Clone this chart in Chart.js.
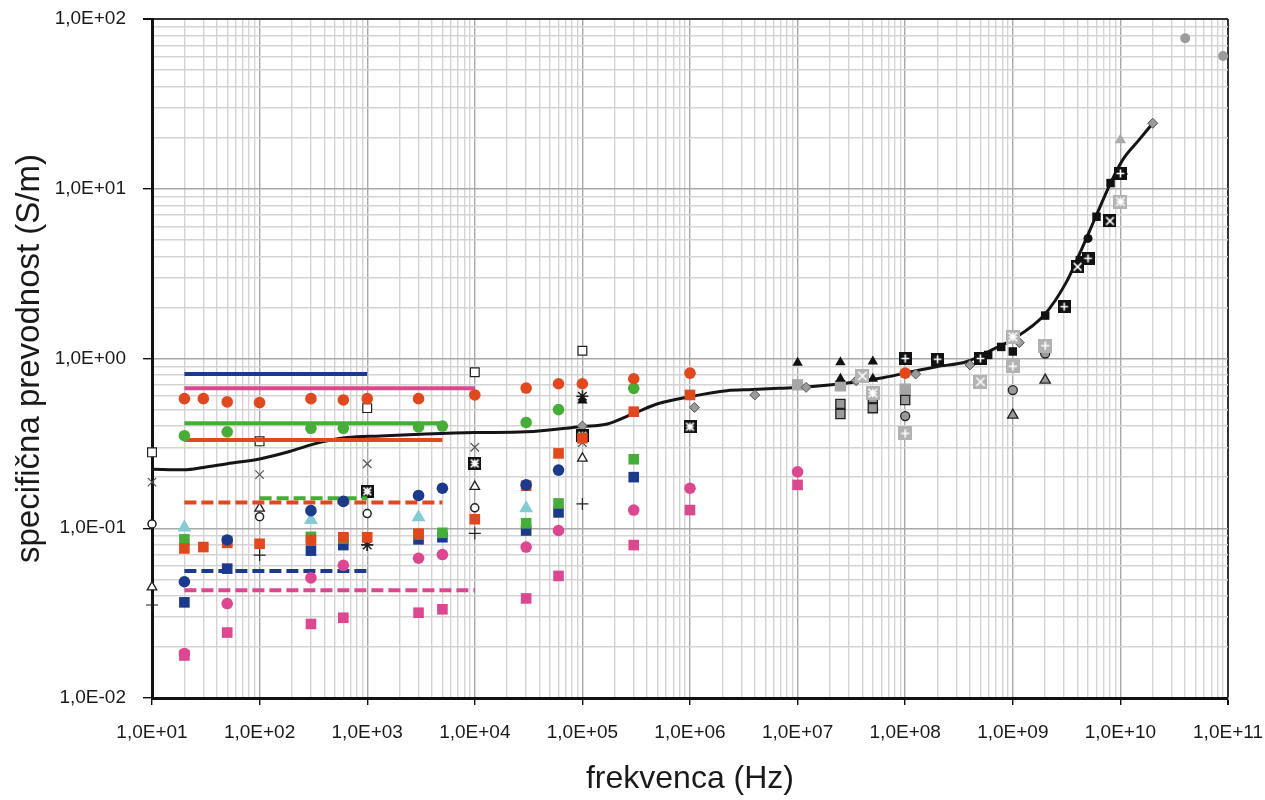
<!DOCTYPE html>
<html>
<head>
<meta charset="utf-8">
<title>specifična prevodnost</title>
<script src="https://cdn.jsdelivr.net/npm/chart.js"></script>
<style>
  body { margin: 0; background: #fff; }
</style>
</head>
<body>
<canvas id="chart" width="1265" height="800"></canvas>
<script>
// axis decades (tick labels come from these)
const xDecades = [1e1, 1e2, 1e3, 1e4, 1e5, 1e6, 1e7, 1e8, 1e9, 1e10, 1e11];
const yDecades = [1e-2, 1e-1, 1e0, 1e1, 1e2];

// fitted curve [Hz, S/m]
const curve = [[10,0.223],[20,0.221],[30,0.228],[50,0.24],[100,0.256],[190,0.283],[316,0.313],[650,0.342],
  [1320,0.35],[3500,0.359],[1e4,0.366],[3e4,0.37],[1e5,0.398],[1.66e5,0.41],[3e5,0.475],[5.2e5,0.545],
  [1e6,0.596],[2.2e6,0.646],[3.8e6,0.656],[6.7e6,0.667],[1.37e7,0.683],[2.8e7,0.714],[5.8e7,0.764],
  [1e8,0.82],[1.95e8,0.895],[3.7e8,0.957],[6.9e8,1.15],[1e9,1.3],[1.95e9,1.8],[3.1e9,2.77],[4.2e9,4.17],
  [5.9e9,6.84],[8.1e9,10.8],[1.05e10,14.8],[1.49e10,19.4],[2e10,24.3]];

// coloured measurement series
const orangeCircles = [[20,0.58],[30,0.58],[50,0.555],[100,0.55],[300,0.58],[600,0.57],[1000,0.58],[3000,0.58],
  [1e4,0.61],[3e4,0.67],[6e4,0.71],[1e5,0.71],[3e5,0.76],[1e6,0.82],[1e8,0.82]];
const greenCircles = [[20,0.351],[50,0.37],[300,0.388],[600,0.388],[3000,0.395],[5000,0.40],[3e4,0.42],[6e4,0.50],[3e5,0.667]];
const blueCircles = [[20,0.0484],[50,0.0853],[300,0.127],[600,0.144],[3000,0.156],[5000,0.172],[3e4,0.18],[6e4,0.22]];
const pinkCircles = [[20,0.0183],[50,0.036],[300,0.051],[600,0.0605],[3000,0.0666],[5000,0.070],[3e4,0.0775],
  [6e4,0.097],[3e5,0.128],[1e6,0.172],[1e7,0.215]];
const orangeSquares = [[20,0.076],[30,0.0775],[50,0.082],[100,0.081],[300,0.0853],[600,0.0885],[1000,0.0885],
  [3000,0.093],[1e4,0.113],[3e4,0.178],[6e4,0.276],[1e5,0.339],[3e5,0.486],[1e6,0.61]];
const greenSquares = [[20,0.086],[50,0.084],[300,0.089],[600,0.087],[3000,0.092],[5000,0.094],[3e4,0.107],[6e4,0.140],[3e5,0.255]];
const blueSquares = [[20,0.0366],[50,0.0578],[300,0.0738],[600,0.0796],[3000,0.086],[5000,0.0885],[3e4,0.097],[6e4,0.124],[3e5,0.20]];
const pinkSquares = [[20,0.0178],[50,0.0243],[300,0.0273],[600,0.0297],[3000,0.0318],[5000,0.0333],[3e4,0.0386],
  [6e4,0.0524],[3e5,0.0796],[1e6,0.128],[1e7,0.18]];
const cyanTriangles = [[20,0.101],[300,0.112],[3000,0.116],[3e4,0.131]];

// constant-value ranges
const blueLine = [[20,0.81],[1000,0.81]];
const pinkLine = [[20,0.667],[1e4,0.667]];
const greenLine = [[20,0.415],[5000,0.415]];
const orangeLine = [[20,0.331],[5000,0.331]];
const orangeDash = [[20,0.142],[5000,0.142]];
const greenDash = [[100,0.15],[1000,0.15]];
const blueDash = [[20,0.056],[1000,0.056]];
const pinkDash = [[20,0.0432],[1e4,0.0432]];

// black / grey series
const openSquares = [[10,0.28],[100,0.325],[1000,0.51],[1e4,0.83],[1e5,1.11]];
const xCrosses = [[10,0.187],[100,0.207],[1000,0.24],[1e4,0.30],[1e5,0.32]];
const openCircles = [[10,0.106],[100,0.117],[1000,0.122],[1e4,0.132]];
const openTriangles = [[10,0.045],[100,0.131],[1e4,0.176],[1e5,0.258]];
const plusSigns = [[10,0.0353],[100,0.0695],[1000,0.08],[1e4,0.0933],[1e5,0.139]];
const asterisks = [[1000,0.0796],[1e5,0.6]];
const darkBoxAst = [[1000,0.165],[1e4,0.241],[1e5,0.35],[1e6,0.396]];
const blackTriangles = [[1e5,0.565],[1e7,0.945],[2.5e7,0.95],[5e7,0.96],[2.5e7,0.76],[5e7,0.76]];
const greyDiamonds = [[1e5,0.40],[1.1e6,0.515],[4e6,0.61],[1.2e7,0.676],[3.5e7,0.74],[1.25e8,0.81],[4e8,0.917],
  [1.15e9,1.24],[1.05e10,12.2],[2e10,24.3]];
const greyFilled = [[1e7,0.70],[2.5e7,0.69],[1e8,0.66]];
const greySquares = [[2.5e7,0.54],[2.5e7,0.471],[5e7,0.585],[5e7,0.51],[1e8,0.65],[1e8,0.57]];
const greyCircles = [[1e8,0.458],[1e9,0.652],[2e9,1.07]];
const greyTriangles = [[1e9,0.464],[2e9,0.746]];
const paleTriangles = [[1e10,19.4]];
const paleBoxPlus = [[1e8,0.362],[1e9,0.9],[2e9,1.19]];
const paleBoxX = [[4e7,0.79],[5e8,0.73]];
const paleBoxAst = [[5e7,0.625],[1e9,1.34],[1e10,8.4]];
const darkBoxPlus = [[1e8,1.0],[2e8,0.99],[5e8,1.0],[3e9,2.02],[5e9,3.89],[1e10,12.3]];
const darkBoxX = [[4e9,3.47],[8e9,6.46]];
const blackSquares = [[5.9e8,1.05],[7.8e8,1.17],[1e9,1.1],[2e9,1.79],[4.2e9,3.8],[6e9,6.84],[8.1e9,10.8]];
const blackCircles = [[5e9,5.1]];
const bigGreyCircles = [[4e10,77],[9e10,60.5]];

const FONT = '"Liberation Sans", Arial, sans-serif';
const ORANGE = '#e0481d', GREEN = '#46ae38', BLUE = '#1b3a8c', PINK = '#dc4890', CYAN = '#84cbd3';

// small square markers with a white glyph inside
function boxMarker(fill, glyph, size) {
  const c = document.createElement('canvas');
  c.width = size; c.height = size;
  const g = c.getContext('2d');
  g.fillStyle = fill;
  g.fillRect(0, 0, size, size);
  g.strokeStyle = '#fff';
  g.lineWidth = 1.6;
  const m = size / 2, a = size * 0.3;
  g.beginPath();
  if (glyph === 'plus' || glyph === 'ast') {
    g.moveTo(m, m - a); g.lineTo(m, m + a);
    g.moveTo(m - a, m); g.lineTo(m + a, m);
  }
  if (glyph === 'x' || glyph === 'ast') {
    g.moveTo(m - a, m - a); g.lineTo(m + a, m + a);
    g.moveTo(m - a, m + a); g.lineTo(m + a, m - a);
  }
  g.stroke();
  return c;
}

const pts = arr => arr.map(([x, y]) => ({ x, y }));
function marks(data, style) {
  return Object.assign({ data: pts(data), showLine: false, borderWidth: 0, clip: false }, style);
}
function seg(data, color, dash) {
  return { data: pts(data), showLine: true, pointRadius: 0, borderColor: color, borderWidth: 4,
    borderDash: dash ? [12, 5] : [], borderCapStyle: 'butt' };
}

const isMajor = v => Math.abs(Math.log10(v) - Math.round(Math.log10(v))) < 1e-9;
const fmt = v => {
  const e = Math.round(Math.log10(v));
  return '1,0E' + (e < 0 ? '-' : '+') + String(Math.abs(e)).padStart(2, '0');
};
function logTicks(decades) {
  const out = [];
  decades.forEach((d, i) => {
    if (i === decades.length - 1) { out.push(d); return; }
    for (let k = 1; k <= 9; k++) out.push(+(k * d).toPrecision(3));
  });
  return out.map(v => ({ value: v }));
}
function gridColor(ctx, last) {
  const v = ctx.tick ? ctx.tick.value : 0;
  if (v === last) return '#333';
  return isMajor(v) ? '#a8a8a8' : '#d4d4d4';
}

const datasets = [
  marks(orangeCircles, { pointStyle: 'circle', pointRadius: 5.8, backgroundColor: ORANGE }),
  marks(greenCircles, { pointStyle: 'circle', pointRadius: 5.8, backgroundColor: GREEN }),
  marks(blueCircles, { pointStyle: 'circle', pointRadius: 5.8, backgroundColor: BLUE }),
  marks(pinkCircles, { pointStyle: 'circle', pointRadius: 5.8, backgroundColor: PINK }),
  marks(cyanTriangles, { pointStyle: 'triangle', pointRadius: 8, backgroundColor: CYAN }),
  marks(orangeSquares, { pointStyle: 'rect', pointRadius: 7.5, backgroundColor: ORANGE }),
  marks(greenSquares, { pointStyle: 'rect', pointRadius: 7.5, backgroundColor: GREEN }),
  marks(blueSquares, { pointStyle: 'rect', pointRadius: 7.5, backgroundColor: BLUE }),
  marks(pinkSquares, { pointStyle: 'rect', pointRadius: 7.5, backgroundColor: PINK }),
  seg(blueLine, BLUE), seg(pinkLine, PINK), seg(greenLine, GREEN), seg(orangeLine, ORANGE),
  seg(orangeDash, ORANGE, true), seg(greenDash, GREEN, true), seg(blueDash, BLUE, true), seg(pinkDash, PINK, true),
  marks(bigGreyCircles, { pointStyle: 'circle', pointRadius: 5, backgroundColor: '#9c9c9c' }),
  marks(darkBoxPlus, { pointStyle: boxMarker('#111', 'plus', 13) }),
  marks(darkBoxX, { pointStyle: boxMarker('#111', 'x', 13) }),
  marks(darkBoxAst, { pointStyle: boxMarker('#111', 'ast', 13) }),
  marks(paleBoxPlus, { pointStyle: boxMarker('#b2b2b2', 'plus', 14) }),
  marks(paleBoxX, { pointStyle: boxMarker('#b2b2b2', 'x', 14) }),
  marks(paleBoxAst, { pointStyle: boxMarker('#b2b2b2', 'ast', 14) }),
  marks(greyDiamonds, { pointStyle: 'rectRot', pointRadius: 5, backgroundColor: '#9a9a9a', borderColor: '#555', borderWidth: 1 }),
  marks(blackSquares, { pointStyle: 'rect', pointRadius: 6, backgroundColor: '#111' }),
  marks(blackCircles, { pointStyle: 'circle', pointRadius: 4.5, backgroundColor: '#111' }),
  marks(blackTriangles, { pointStyle: 'triangle', pointRadius: 6, backgroundColor: '#111' }),
  marks(greyFilled, { pointStyle: 'rect', pointRadius: 8, backgroundColor: '#a6a6a6' }),
  marks(greySquares, { pointStyle: 'rect', pointRadius: 6.5, backgroundColor: '#9a9a9a', borderColor: '#222', borderWidth: 1.3 }),
  marks(greyCircles, { pointStyle: 'circle', pointRadius: 4.5, backgroundColor: '#999', borderColor: '#222', borderWidth: 1.3 }),
  marks(greyTriangles, { pointStyle: 'triangle', pointRadius: 6, backgroundColor: '#999', borderColor: '#222', borderWidth: 1.3 }),
  marks(paleTriangles, { pointStyle: 'triangle', pointRadius: 6.5, backgroundColor: '#aaa' }),
  marks(openSquares, { pointStyle: 'rect', pointRadius: 6.2, backgroundColor: '#fff', borderColor: '#222', borderWidth: 1.2 }),
  marks(xCrosses, { pointStyle: 'crossRot', pointRadius: 6, borderColor: '#555', borderWidth: 1.2 }),
  marks(openCircles, { pointStyle: 'circle', pointRadius: 4, backgroundColor: '#fff', borderColor: '#222', borderWidth: 1.5 }),
  marks(openTriangles, { pointStyle: 'triangle', pointRadius: 5.5, backgroundColor: '#fff', borderColor: '#222', borderWidth: 1.3 }),
  marks(plusSigns, { pointStyle: 'cross', pointRadius: 6, borderColor: '#222', borderWidth: 1.2 }),
  marks(asterisks, { pointStyle: 'star', pointRadius: 6, borderColor: '#222', borderWidth: 1.5 }),
  { data: pts(curve), showLine: true, pointRadius: 0, borderColor: '#151515', borderWidth: 3,
    cubicInterpolationMode: 'monotone' }
];

new Chart(document.getElementById('chart'), {
  type: 'scatter',
  data: { datasets },
  options: {
    responsive: false,
    animation: false,
    layout: { padding: { top: 19, right: 37, left: 0, bottom: 0 } },
    plugins: { legend: { display: false }, tooltip: { enabled: false } },
    scales: {
      x: {
        type: 'logarithmic',
        min: 1e1, max: 1e11,
        afterBuildTicks: s => { s.ticks = logTicks(xDecades); },
        afterFit: s => { s.height = 102; s.paddingLeft = 0; s.paddingRight = 0; },
        grid: {
          color: ctx => gridColor(ctx, 1e11),
          lineWidth: ctx => (ctx.tick && ctx.tick.value === 1e11) ? 2 : 1.4,
          tickColor: ctx => (ctx.tick && isMajor(ctx.tick.value)) ? '#111' : 'rgba(0,0,0,0)',
          tickLength: 7
        },
        border: { color: '#111', width: 3 },
        ticks: {
          autoSkip: false, maxRotation: 0, padding: 16, color: '#1a1a1a',
          font: { family: FONT, size: 19 },
          callback: v => isMajor(v) ? fmt(v) : ''
        },
        title: { display: true, text: 'frekvenca (Hz)', color: '#1a1a1a',
          font: { family: FONT, size: 32 }, padding: { top: 0, bottom: 2 } }
      },
      y: {
        type: 'logarithmic',
        min: 1e-2, max: 1e2,
        afterBuildTicks: s => { s.ticks = logTicks(yDecades); },
        afterFit: s => { s.width = 152; s.paddingTop = 0; s.paddingBottom = 0; },
        grid: {
          color: ctx => gridColor(ctx, 1e2),
          lineWidth: ctx => (ctx.tick && ctx.tick.value === 1e2) ? 2 : 1.4,
          tickColor: ctx => (ctx.tick && isMajor(ctx.tick.value)) ? '#111' : 'rgba(0,0,0,0)',
          tickLength: 9
        },
        border: { color: '#111', width: 3 },
        ticks: {
          autoSkip: false, padding: 17, color: '#1a1a1a',
          font: { family: FONT, size: 19 },
          callback: v => isMajor(v) ? fmt(v) : ''
        },
        title: { display: true, text: 'specifična prevodnost (S/m)', color: '#1a1a1a',
          font: { family: FONT, size: 33 }, padding: { top: 10, bottom: 0 } }
      }
    }
  }
});
</script>
</body>
</html>
